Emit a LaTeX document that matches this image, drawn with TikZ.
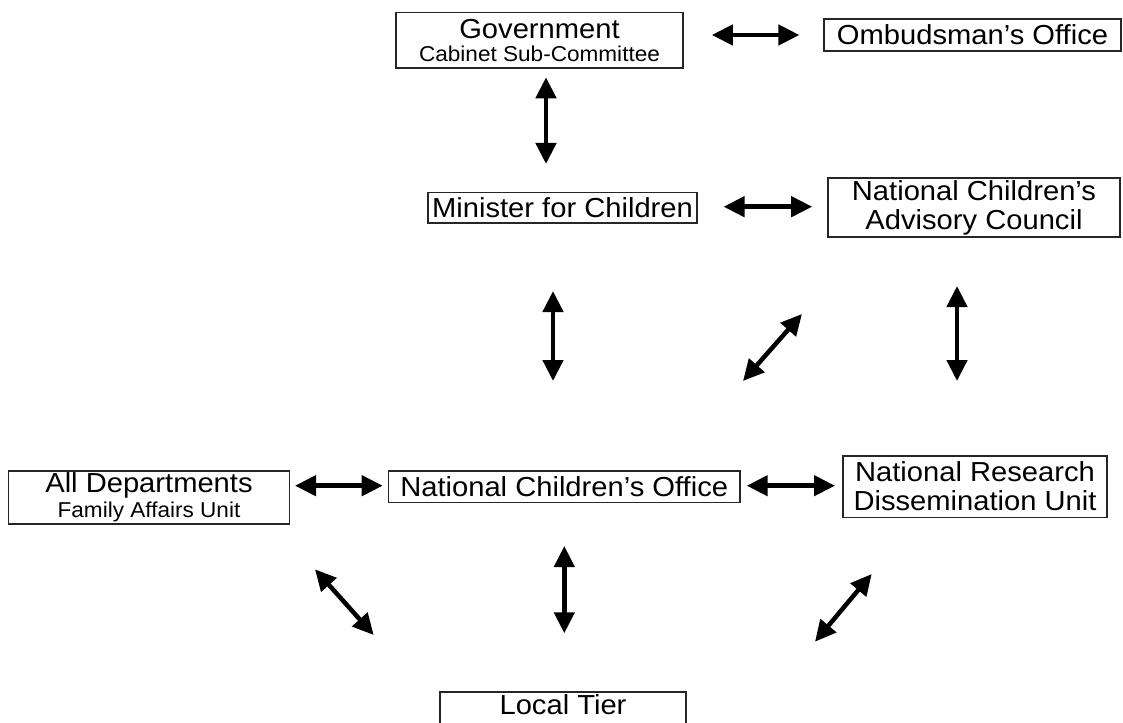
\documentclass[tikz,border=0pt]{standalone}
\usepackage{fontspec}
\setmainfont{Liberation Sans}
\newfontfamily\bigf{Liberation Sans}[FakeStretch=1.06]
\newfontfamily\smf{Liberation Sans}[FakeStretch=1.05]
\usetikzlibrary{arrows.meta}
\newcommand{\smtext}[1]{{\smf\fontsize{21.5}{24}\selectfont #1}}
\tikzset{
  box/.style={draw=black!85, line width=1.3pt, inner sep=0pt, align=center,
    font=\bigf\fontsize{27.5}{29}\selectfont},
  link/.style={line width=4.5pt,
    {Triangle[length=21pt,width=20pt]}-{Triangle[length=21pt,width=20pt]}},
}
\begin{document}
\begin{tikzpicture}[x=1pt,y=-1pt]
\useasboundingbox (0,0) rectangle (1123,722);
% boxes
\node[box, minimum width=287pt, minimum height=55.3pt] (gov) at (539.5,40.3)
  {Government\\[-6.5pt]\smtext{Cabinet Sub-Committee}};
\node[box, minimum width=297pt, minimum height=32pt] (omb) at (972.5,35) {Ombudsman’s Office};
\node[box, minimum width=269pt, minimum height=30.7pt] (min) at (562.5,207.6) {Minister for Children};
\node[box, minimum width=292pt, minimum height=59pt] (ncac) at (974,207.5)
  {National Children’s\\Advisory Council};
\node[box, minimum width=281pt, minimum height=53pt] (alld) at (149,497.5)
  {All Departments\\[-4.4pt]\smtext{Family Affairs Unit}};
\node[box, minimum width=351.5pt, minimum height=31.7pt] (nco) at (564.2,486.9) {National Children’s Office};
\node[box, minimum width=264pt, minimum height=61.3pt] (nrdu) at (975,486.6)
  {National Research\\Dissemination Unit};
\node[box, minimum width=246pt, minimum height=34pt, text depth=8pt] (local) at (563,709) {Local Tier};
% arrow end points
\coordinate (a1s) at (711.8,35);   \coordinate (a1e) at (799.4,35);
\coordinate (a2s) at (546,77.3);   \coordinate (a2e) at (546,164);
\coordinate (a3s) at (723.6,206.7);\coordinate (a3e) at (812.2,206.7);
\coordinate (a4s) at (553,291);    \coordinate (a4e) at (553,381);
\coordinate (a5s) at (802,314);    \coordinate (a5e) at (743,381);
\coordinate (a6s) at (957,286);    \coordinate (a6e) at (957,381);
\coordinate (a7s) at (295,485.7);  \coordinate (a7e) at (382.7,485.7);
\coordinate (a8s) at (746.7,485.7);\coordinate (a8e) at (835,485.7);
\coordinate (a9s) at (315,569.3);  \coordinate (a9e) at (373.7,635);
\coordinate (a10s) at (564.3,546); \coordinate (a10e) at (564.3,633.3);
\coordinate (a11s) at (871.7,574); \coordinate (a11e) at (815,641.7);
% arrows
\foreach \i in {1,...,11} {\draw[link] (a\i s) -- (a\i e);}
\end{tikzpicture}
\end{document}
